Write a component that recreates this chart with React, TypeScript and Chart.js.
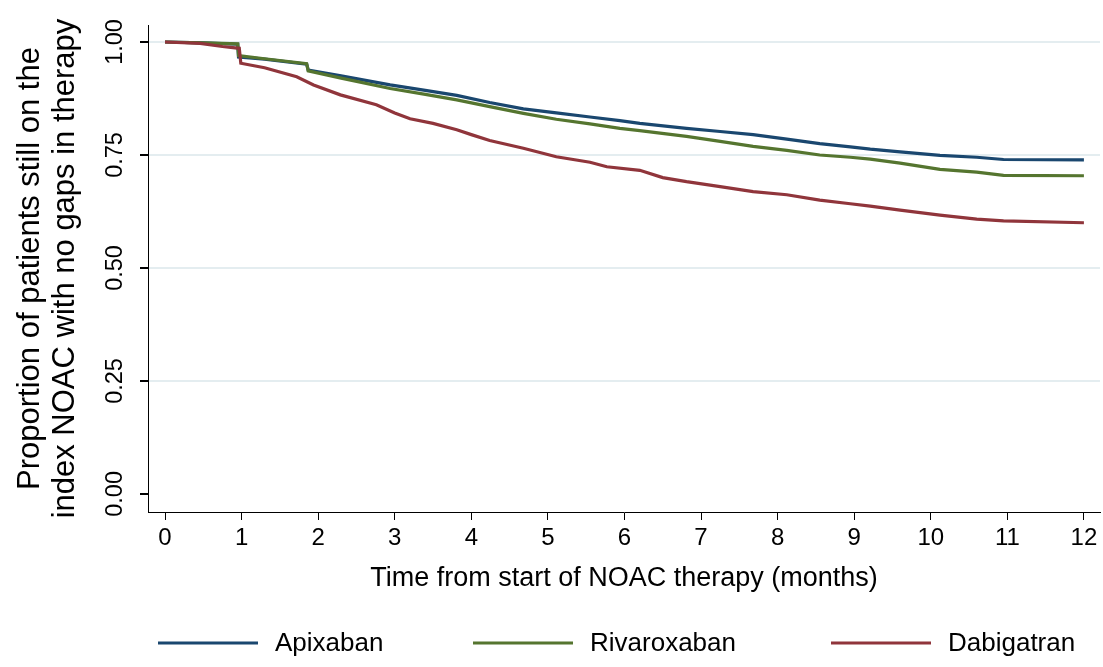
import React, { useEffect, useRef } from "react";
import { Chart, registerables } from "chart.js";

Chart.register(...registerables);

// ---------- data ----------
const seriesNames = ["Apixaban", "Rivaroxaban", "Dabigatran"];
const seriesColors = ["#1a476f", "#55752f", "#90353b"];

const apixabanMonths = [0, 0.5, 0.95, 0.96, 1.3, 1.85, 1.87, 2.3, 2.94, 3.4, 3.81, 4.24, 4.68, 5.11, 5.55, 5.94, 6.2, 6.81, 7.25, 7.68, 8.12, 8.55, 8.95, 9.21, 9.6, 10.12, 10.6, 10.95, 12.0];
const apixabanValues = [1.0, 0.998, 0.995, 0.967, 0.962, 0.951, 0.938, 0.925, 0.905, 0.893, 0.882, 0.866, 0.852, 0.843, 0.834, 0.826, 0.82, 0.809, 0.802, 0.795, 0.785, 0.775, 0.768, 0.763, 0.757, 0.749, 0.745, 0.74, 0.739];

const rivaroxabanMonths = [0, 0.5, 0.95, 0.96, 1.3, 1.85, 1.87, 2.3, 2.94, 3.4, 3.81, 4.24, 4.68, 5.11, 5.55, 5.94, 6.2, 6.81, 7.25, 7.68, 8.12, 8.55, 8.95, 9.21, 9.6, 10.12, 10.6, 10.95, 12.0];
const rivaroxabanValues = [1.0, 0.998, 0.996, 0.97, 0.963, 0.952, 0.936, 0.92, 0.897, 0.884, 0.872, 0.857, 0.842, 0.829, 0.819, 0.809, 0.804, 0.791, 0.78, 0.769, 0.76, 0.75, 0.745, 0.741, 0.732, 0.718, 0.712, 0.705, 0.704];

const dabigatranMonths = [0, 0.46, 0.75, 0.97, 0.99, 1.3, 1.72, 1.94, 2.29, 2.76, 3.0, 3.2, 3.5, 3.81, 4.0, 4.24, 4.68, 5.11, 5.55, 5.77, 6.2, 6.5, 6.81, 7.25, 7.68, 8.12, 8.55, 8.95, 9.21, 9.6, 10.12, 10.6, 10.95, 12.0];
const dabigatranValues = [1.0, 0.997, 0.99, 0.986, 0.953, 0.943, 0.923, 0.905, 0.883, 0.861, 0.843, 0.83, 0.82, 0.806, 0.795, 0.782, 0.765, 0.746, 0.734, 0.724, 0.716, 0.7, 0.691, 0.68, 0.669, 0.662, 0.65, 0.642, 0.637, 0.628, 0.617, 0.608, 0.604, 0.6];

const xTickValues = [0, 1, 2, 3, 4, 5, 6, 7, 8, 9, 10, 11, 12];
const yTickValues = [0, 0.25, 0.5, 0.75, 1.0];

const xTitle = "Time from start of NOAC therapy (months)";
const yTitleLines = ["Proportion of patients still on the", "index NOAC with no gaps in therapy"];

// ---------- style ----------
const FONT = "'Liberation Sans', Arial, sans-serif";
const GRID_COLOR = "#e4edf0";
const LEGEND_Y = 643;
const LEGEND_X = [158, 473, 831];
const LEGEND_LINE = 100;
const LEGEND_TEXT_GAP = 17;

const toPoints = (xs: number[], ys: number[]) => xs.map((x, i) => ({ x, y: ys[i] }));

const bottomLegend = {
  id: "bottomLegend",
  afterDraw(chart: any) {
    const ctx = chart.ctx as CanvasRenderingContext2D;
    ctx.save();
    chart.data.datasets.forEach((ds: any, i: number) => {
      const x0 = LEGEND_X[i];
      ctx.strokeStyle = ds.borderColor;
      ctx.lineWidth = 3;
      ctx.beginPath();
      ctx.moveTo(x0, LEGEND_Y);
      ctx.lineTo(x0 + LEGEND_LINE, LEGEND_Y);
      ctx.stroke();
      ctx.fillStyle = "#000";
      ctx.font = `26px ${FONT}`;
      ctx.textBaseline = "middle";
      ctx.textAlign = "left";
      ctx.fillText(ds.label, x0 + LEGEND_LINE + LEGEND_TEXT_GAP, LEGEND_Y + 1);
    });
    ctx.restore();
  },
};

export default function App() {
  const canvasRef = useRef<HTMLCanvasElement | null>(null);

  useEffect(() => {
    const canvas = canvasRef.current;
    if (!canvas) return;
    const seriesMonths = [apixabanMonths, rivaroxabanMonths, dabigatranMonths];
    const seriesValues = [apixabanValues, rivaroxabanValues, dabigatranValues];
    const drawOrder = [2, 1, 0];
    const chart = new Chart(canvas, {
      type: "line",
      data: {
        datasets: seriesNames.map((name, i) => ({
          label: name,
          data: toPoints(seriesMonths[i], seriesValues[i]),
          borderColor: seriesColors[i],
          backgroundColor: seriesColors[i],
          borderWidth: 3.2,
          pointRadius: 0,
          tension: 0,
          fill: false,
          order: drawOrder[i],
        })),
      },
      options: {
        responsive: false,
        animation: false,
        devicePixelRatio: 1,
        layout: { padding: { top: 25, right: 3, bottom: 72, left: 0 } },
        plugins: {
          legend: { display: false },
          tooltip: { enabled: false },
        },
        scales: {
          x: {
            type: "linear",
            min: -0.222,
            max: 12.21,
            afterBuildTicks: (s: any) => {
              s.ticks = xTickValues.map((v) => ({ value: v }));
            },
            afterFit: (s: any) => {
              s.height = 83;
            },
            grid: {
              drawOnChartArea: false,
              drawTicks: true,
              tickLength: 8,
              tickColor: "#000",
              color: "#000",
            },
            border: { display: true, color: "#000", width: 1 },
            ticks: {
              color: "#000",
              font: { family: FONT, size: 24 },
              padding: 4,
              autoSkip: false,
              maxRotation: 0,
              minRotation: 0,
            },
            title: {
              display: true,
              text: xTitle,
              color: "#000",
              font: { family: FONT, size: 27 },
              padding: { top: 0, bottom: 0 },
            },
          },
          y: {
            type: "linear",
            min: -0.04,
            max: 1.0376,
            afterBuildTicks: (s: any) => {
              s.ticks = yTickValues.map((v) => ({ value: v }));
            },
            afterFit: (s: any) => {
              s.width = 148;
            },
            grid: {
              drawOnChartArea: true,
              drawTicks: true,
              tickLength: 8,
              tickColor: "#000",
              lineWidth: 2,
              color: (c: any) => (c.tick && c.tick.value === 0 ? "rgba(0,0,0,0)" : GRID_COLOR),
            },
            border: { display: true, color: "#000", width: 1 },
            ticks: {
              color: "#000",
              font: { family: FONT, size: 23.5 },
              padding: 2,
              minRotation: 90,
              maxRotation: 90,
              crossAlign: "center",
              autoSkip: false,
              callback: (v: any) => Number(v).toFixed(2),
            },
            title: {
              display: true,
              text: yTitleLines,
              color: "#000",
              font: { family: FONT, size: 31, lineHeight: 1.16 },
              padding: { top: 12, bottom: 0 },
            },
          },
        },
      },
      plugins: [bottomLegend],
    });
    return () => chart.destroy();
  }, []);

  return (
    <div style={{ position: "absolute", left: 0, top: 0, width: 1103, height: 667, background: "#fff" }}>
      <canvas ref={canvasRef} width={1103} height={667} style={{ display: "block", width: 1103, height: 667 }} />
    </div>
  );
}
